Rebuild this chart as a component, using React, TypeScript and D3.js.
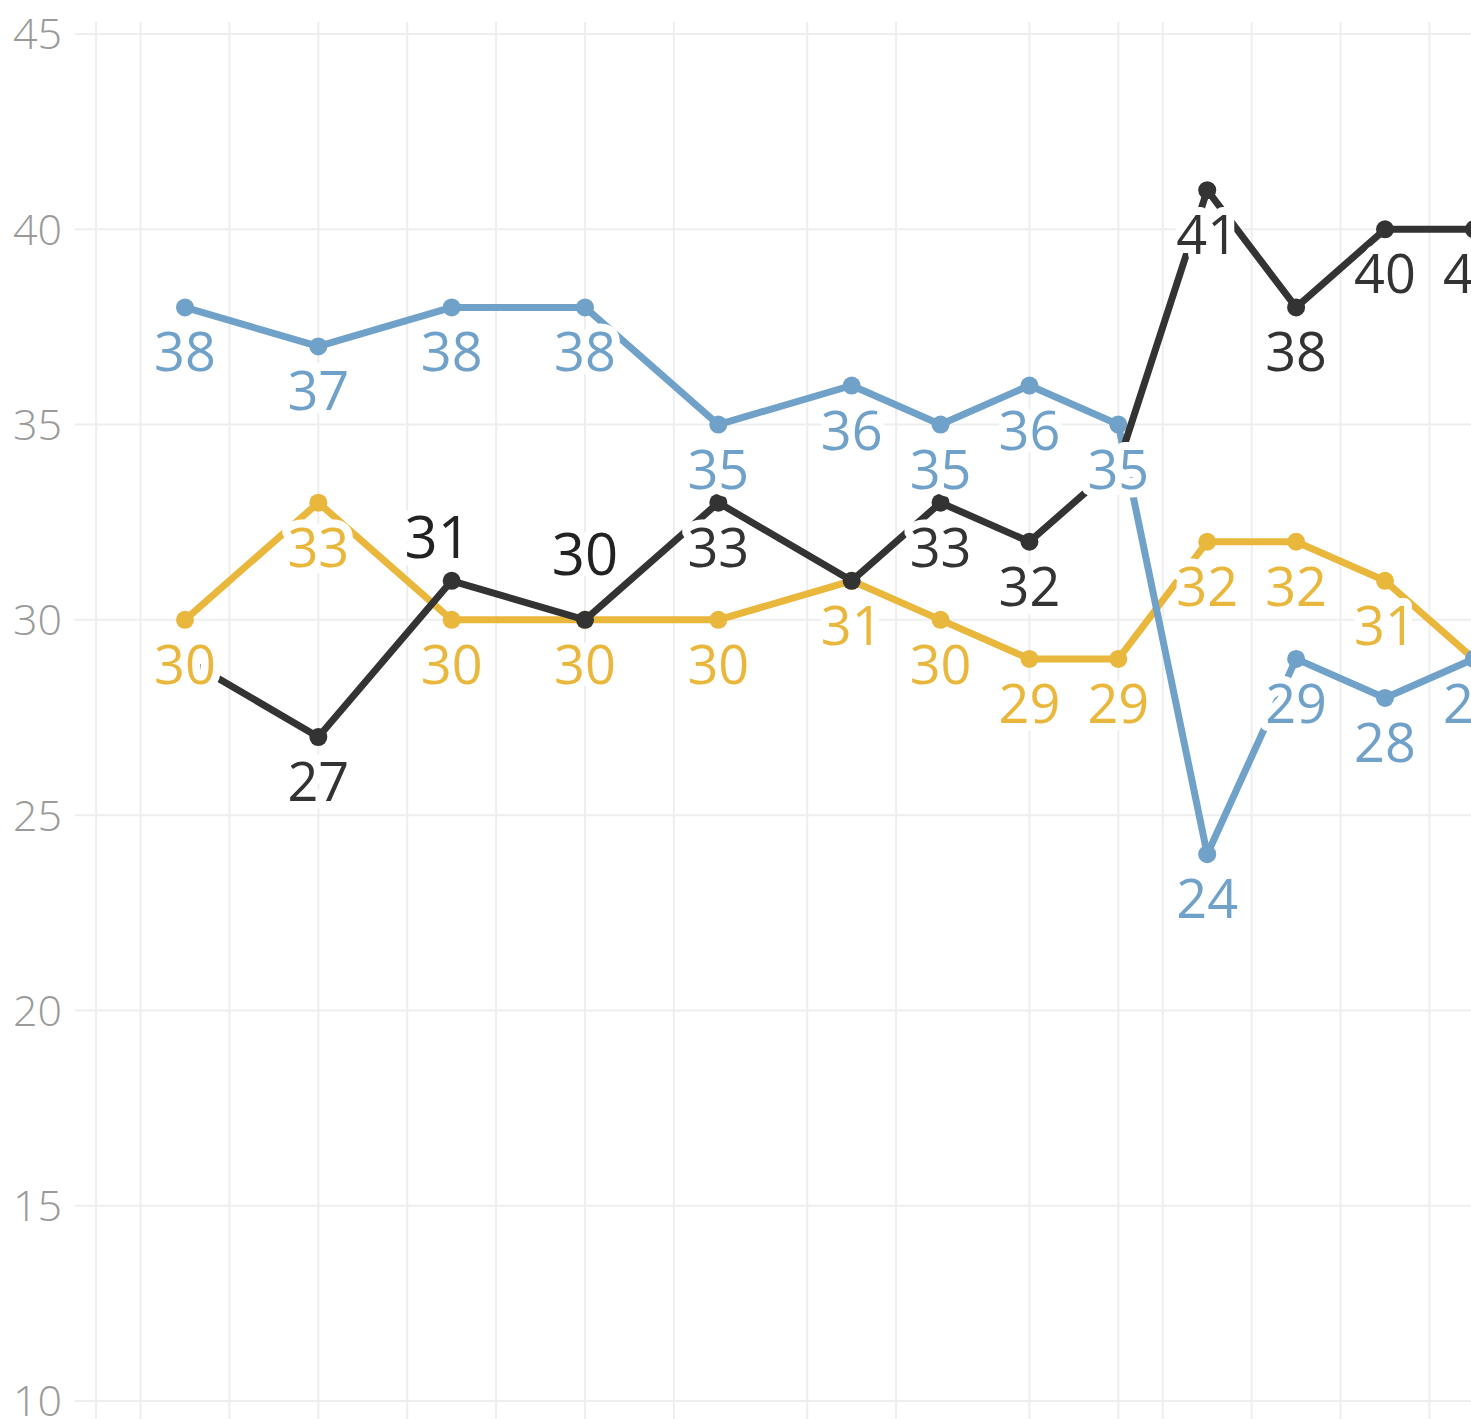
import * as d3 from "d3";

// Three polling-style series on an uneven period axis.
const WIDTH = 1471;
const HEIGHT = 1419;
const FONT = "'Open Sans', 'Noto Sans', sans-serif";

const periods = [0, 3, 6, 9, 12, 15, 17, 19, 21, 23, 25, 27, 29];
const gridPeriods = [-2, -1, 1, 3, 5, 7, 9, 11, 14, 16, 19, 21, 22, 24, 26, 28];
const yTicks = [10, 15, 20, 25, 30, 35, 40, 45];

const blueValues = [38, 37, 38, 38, 35, 36, 35, 36, 35, 24, 29, 28, 29];
const yellowValues = [30, 33, 30, 30, 30, 31, 30, 29, 29, 32, 32, 31, 29];
const blackValues = [29, 27, 31, 30, 33, 31, 33, 32, 34, 41, 38, 40, 40];

type Series = {
  key: string;
  values: number[];
  color: string;
  labelColor: string;
  hidden?: number[];
};

const SERIES: Series[] = [
  { key: "yellow", values: yellowValues, color: "#e9b73b", labelColor: "#e9b73b" },
  { key: "blue", values: blueValues, color: "#70a1c9", labelColor: "#70a1c9" },
  { key: "black", values: blackValues, color: "#333333", labelColor: "#333333", hidden: [0, 5, 8] },
];

/** Label placement tweaks, keyed "series-index". Default is centred below the dot. */
const LABEL_TWEAKS: Record<string, { dx?: number; dy?: number; size?: number; fill?: string }> = {
  "black-2": { dx: -14, dy: -23, size: 58, fill: "#222" },
  "black-3": { dx: 0, dy: -45, size: 58, fill: "#222" },
};

const LABEL_DY = 64;
const LABEL_SIZE = 54;

export default function App() {
  const x = d3.scaleLinear().domain([0, 27]).range([185, 1385]);
  const y = d3.scaleLinear().domain([10, 45]).range([1401, 34]);

  const line = d3
    .line<[number, number]>()
    .x((d) => x(d[0]))
    .y((d) => y(d[1]));

  return (
    <svg
      width={WIDTH}
      height={HEIGHT}
      style={{ position: "absolute", left: 0, top: 0, background: "#fff" }}
      fontFamily={FONT}
    >
      <g className="grid">
        {yTicks.map((t) => (
          <line key={`h${t}`} x1={75} x2={WIDTH} y1={y(t)} y2={y(t)} stroke="#eeeeee" strokeWidth={2} />
        ))}
        {gridPeriods.map((p) => (
          <line key={`v${p}`} x1={x(p)} x2={x(p)} y1={22} y2={HEIGHT} stroke="#eeeeee" strokeWidth={2} />
        ))}
      </g>

      <g className="y-ticks">
        {yTicks.map((t) => (
          <text
            key={t}
            x={62}
            y={y(t)}
            dy="0.36em"
            textAnchor="end"
            fontSize={43}
            fontWeight={300}
            fill="#9a9a9a"
          >
            {t}
          </text>
        ))}
      </g>

      {SERIES.map((s) => (
        <g key={s.key} className={`series-${s.key}`}>
          <path
            d={line(periods.map((p, i) => [p, s.values[i]])) ?? ""}
            fill="none"
            stroke={s.color}
            strokeWidth={7}
            strokeLinejoin="round"
          />
          {periods.map((p, i) => (
            <circle key={i} cx={x(p)} cy={y(s.values[i])} r={9} fill={s.color} />
          ))}
        </g>
      ))}

      <g className="labels">
        {SERIES.map((s) =>
          periods.map((p, i) => {
            if (s.hidden?.includes(i)) return null;
            const tw = LABEL_TWEAKS[`${s.key}-${i}`] ?? {};
            return (
              <text
                key={`${s.key}-${i}`}
                x={x(p) + (tw.dx ?? 0)}
                y={y(s.values[i]) + (tw.dy ?? LABEL_DY)}
                textAnchor="middle"
                fontSize={tw.size ?? LABEL_SIZE}
                fill={tw.fill ?? s.labelColor}
                stroke="#fff"
                strokeWidth={16}
                strokeLinejoin="round"
                style={{ paintOrder: "stroke" }}
              >
                {s.values[i]}
              </text>
            );
          })
        )}
      </g>
    </svg>
  );
}
